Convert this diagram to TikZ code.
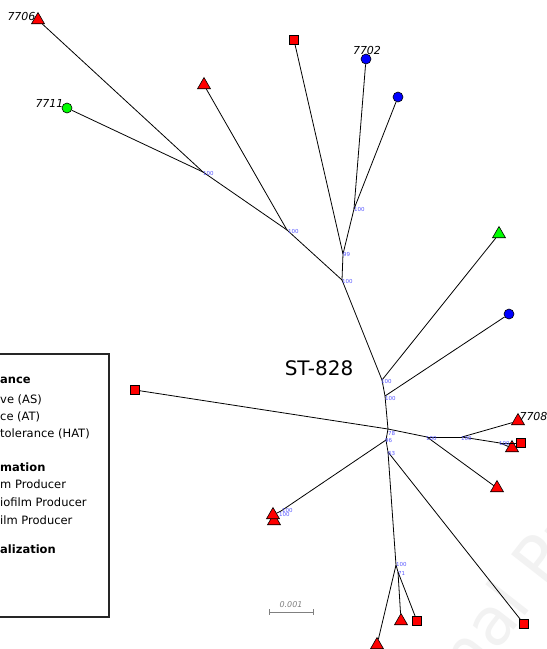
\documentclass[tikz,border=0pt]{standalone}
\usepackage{fontspec}
\setmainfont{DejaVu Sans}
\usetikzlibrary{shapes.geometric}
\begin{document}
\begin{tikzpicture}[x=1pt,y=-1pt,
  edge/.style={draw=black, line width=0.8pt},
  tri/.style={regular polygon, regular polygon sides=3, draw=black, line width=0.6pt, inner sep=0pt, minimum size=15pt, yshift=-2pt, fill=red},
  sq/.style={rectangle, draw=black, line width=0.6pt, inner sep=0pt, minimum size=8.5pt, fill=red},
  circ/.style={circle, draw=black, line width=0.6pt, inner sep=0pt, minimum size=10pt},
  supp/.style={text=blue!65, font=\fontsize{5.5}{6}\selectfont, inner sep=0pt, anchor=west},
  tiplab/.style={font=\itshape\fontsize{11}{12}\selectfont, inner sep=0pt},
  leg/.style={font=\fontsize{11.5}{13}\selectfont, anchor=west, inner sep=0pt},
  legb/.style={font=\bfseries\fontsize{11.5}{13}\selectfont, anchor=west, inner sep=0pt}]
\useasboundingbox (0,0) rectangle (547,649);
\clip (0,0) rectangle (547,649);
\fill[white] (0,0) rectangle (547,649);

% watermark
\node[anchor=base west, rotate=52, text=black!5, font=\fontsize{66}{70}\selectfont, inner sep=0pt] (wm) at (392,786) {Journal Pre-proof};

% internal nodes
\coordinate (n100a) at (203,172);
\coordinate (n100b) at (287,230);
\coordinate (n99) at (343,254);
\coordinate (n100c) at (354,209);
\coordinate (n100d) at (342,280);
\coordinate (n100e) at (382,380);
\coordinate (n100f) at (385,396);
\coordinate (n78) at (388,429);
\coordinate (n96) at (386,440);
\coordinate (n63) at (388,452);
\coordinate (n100g) at (427,437);
\coordinate (n100h) at (462,437);
\coordinate (n100i) at (500,443);
\coordinate (n100j) at (281,511);
\coordinate (n100k) at (396,565);
\coordinate (n71) at (398,572);

% tips
\node[tri] (t7706) at (38,18) {};
\node[circ, fill=green] (t7711) at (67,108) {};
\node[tri] (tA) at (204,83) {};
\node[sq] (tB) at (294,40) {};
\node[circ, fill=blue] (t7702) at (366,59) {};
\node[circ, fill=blue] (tC) at (398,97) {};
\node[tri, fill=green] (tD) at (499,232) {};
\node[circ, fill=blue] (tE) at (509,314) {};
\node[sq] (tF) at (135,390) {};
\node[tri] (t7708) at (518,419) {};
\node[tri] (tG) at (512,446) {};
\node[sq] (tH) at (521,443) {};
\node[tri] (tI) at (497,486) {};
\node[tri] (tJ2) at (274,519) {};
\node[tri] (tJ1) at (273,513) {};
\node[sq] (tK) at (524,624) {};
\node[tri] (tL) at (377,643) {};
\node[tri] (tM) at (401,619) {};
\node[sq] (tN) at (417,621) {};

% edges
\draw[edge] (n100a) -- (t7706);
\draw[edge] (n100a) -- (t7711);
\draw[edge] (n100b) -- (n100a);
\draw[edge] (n100b) -- (tA);
\draw[edge] (n100d) -- (n100b);
\draw[edge] (n100d) -- (n99);
\draw[edge] (n99) -- (tB);
\draw[edge] (n99) -- (n100c);
\draw[edge] (n100c) -- (t7702);
\draw[edge] (n100c) -- (tC);
\draw[edge] (n100d) -- (n100e);
\draw[edge] (n100e) -- (tD);
\draw[edge] (n100e) -- (n100f);
\draw[edge] (n100f) -- (tE);
\draw[edge] (n100f) -- (n78);
\draw[edge] (n78) -- (tF);
\draw[edge] (n78) -- (n100g);
\draw[edge] (n100g) -- (n100h);
\draw[edge] (n100g) -- (tI);
\draw[edge] (n100h) -- (t7708);
\draw[edge] (n100h) -- (n100i);
\draw[edge] (n100i) -- (tG);
\draw[edge] (n100i) -- (tH);
\draw[edge] (n78) -- (n96);
\draw[edge] (n96) -- (n100j);
\draw[edge] (n100j) -- (tJ1);
\draw[edge] (n96) -- (n63);
\draw[edge] (n63) -- (tK);
\draw[edge] (n63) -- (n100k);
\draw[edge] (n100k) -- (tL);
\draw[edge] (n100k) -- (n71);
\draw[edge] (n71) -- (tM);
\draw[edge] (n71) -- (tN);

% support values
\node[supp] (s1) at (203,173) {100};
\node[supp] (s2) at (288,231) {100};
\node[supp] (s3) at (343,254) {99};
\node[supp] (s4) at (354,209) {100};
\node[supp] (s5) at (342,281) {100};
\node[supp] (s6) at (381,381) {100};
\node[supp] (s7) at (385,398) {100};
\node[supp] (s8) at (388,433) {78};
\node[supp] (s9) at (385,440) {96};
\node[supp] (s10) at (388,453) {63};
\node[supp] (s11) at (426,438) {100};
\node[supp] (s12) at (461,438) {100};
\node[supp] (s13) at (499,443) {100};
\node[supp] (s14) at (282,510) {100};
\node[supp] (s15) at (279,514) {100};
\node[supp] (s16) at (396,564) {100};
\node[supp] (s17) at (398,573) {71};

% tip labels
\node[tiplab] (l7706) at (21.5,16) {7706};
\node[tiplab] (l7711) at (49.5,103) {7711};
\node[tiplab] (l7702) at (367,50) {7702};
\node[tiplab] (l7708) at (533.5,416) {7708};

% title
\node[font=\fontsize{20}{22}\selectfont, inner sep=0pt] (title) at (319,368) {ST-828};

% scale bar
\coordinate (sbL) at (269,612);
\coordinate (sbR) at (313,612);
\draw[gray, line width=0.8pt] (sbL) -- (sbR);
\draw[gray, line width=0.8pt] ([yshift=3pt]sbL) -- ([yshift=-3pt]sbL);
\draw[gray, line width=0.8pt] ([yshift=3pt]sbR) -- ([yshift=-3pt]sbR);
\node[gray, font=\itshape\fontsize{8}{9}\selectfont, inner sep=0pt] (sblab) at (291,605) {0.001};

% legend
\draw[black!85, line width=1.1pt, fill=white] (-10,354) rectangle (109,617);
\node[legb] (g1) at (0,380) {ance};
\node[leg] (g2) at (0,400) {ve (AS)};
\node[leg] (g3) at (0,417) {ce (AT)};
\node[leg] (g4) at (0,434) {tolerance (HAT)};
\node[legb] (g5) at (0,467) {mation};
\node[leg] (g6) at (0,484) {m Producer};
\node[leg] (g7) at (0,502) {iofilm Producer};
\node[leg] (g8) at (0,520) {ilm Producer};
\node[legb] (g9) at (0,549) {alization};
\end{tikzpicture}
\end{document}
